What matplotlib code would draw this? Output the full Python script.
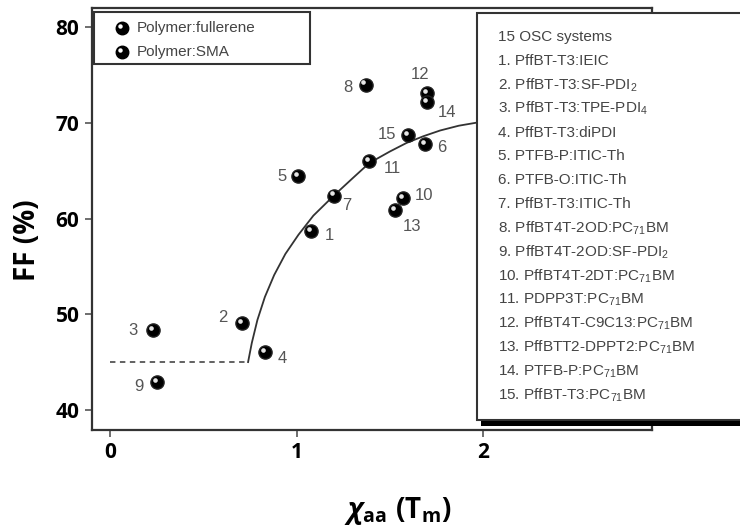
import matplotlib
matplotlib.use('Agg')
import matplotlib.pyplot as plt
from matplotlib.patches import Rectangle
from matplotlib.transforms import offset_copy

plt.rcParams['mathtext.fontset'] = 'custom'
plt.rcParams['mathtext.rm'] = 'Open Sans:bold'
plt.rcParams['mathtext.bf'] = 'Open Sans:bold'
plt.rcParams['mathtext.it'] = 'Open Sans:bold:italic'
plt.rcParams['mathtext.sf'] = 'Liberation Sans'

# 数据：15 个体系的 χaa 与 FF
ids = [1, 2, 3, 4, 5, 6, 7, 8, 9, 10, 11, 12, 13, 14, 15]
chi_aa = [1.08, 0.71, 0.23, 0.83, 1.01, 1.69, 1.20, 1.37, 0.25, 1.57, 1.39, 1.70, 1.53, 1.70, 1.60]
ff = [58.7, 49.1, 48.3, 46.0, 64.4, 67.8, 62.4, 74.0, 42.9, 62.1, 66.0, 73.1, 60.9, 72.2, 68.7]
fullerene_ids = [8, 10, 11, 12, 13, 14, 15]

# 拟合曲线
fit_x = [0.74, 0.76, 0.79, 0.83, 0.88, 0.94, 1.01, 1.09, 1.20, 1.30, 1.39, 1.50, 1.59, 1.68, 1.77, 1.87, 1.96]
fit_y = [45.0, 47.0, 49.4, 51.8, 54.1, 56.3, 58.3, 60.3, 62.4, 64.2, 65.8, 67.0, 67.9, 68.6, 69.2, 69.7, 70.0]
plateau_x = [0.0, 0.74]
plateau_y = [45.0, 45.0]

legend_labels = ['Polymer:fullerene', 'Polymer:SMA']
sub2 = r'$_{\mathsf{2}}$'
sub4 = r'$_{\mathsf{4}}$'
sub71 = r'$_{\mathsf{71}}$'
systems = [
    '15 OSC systems',
    '1. PffBT-T3:IEIC',
    '2. PffBT-T3:SF-PDI' + sub2,
    '3. PffBT-T3:TPE-PDI' + sub4,
    '4. PffBT-T3:diPDI',
    '5. PTFB-P:ITIC-Th',
    '6. PTFB-O:ITIC-Th',
    '7. PffBT-T3:ITIC-Th',
    '8. PffBT4T-2OD:PC' + sub71 + 'BM',
    '9. PffBT4T-2OD:SF-PDI' + sub2,
    '10. PffBT4T-2DT:PC' + sub71 + 'BM',
    '11. PDPP3T:PC' + sub71 + 'BM',
    '12. PffBT4T-C9C13:PC' + sub71 + 'BM',
    '13. PffBTT2-DPPT2:PC' + sub71 + 'BM',
    '14. PTFB-P:PC' + sub71 + 'BM',
    '15. PffBT-T3:PC' + sub71 + 'BM',
]

# 标签偏移（像素）
label_offsets = {1: (18, -5), 2: (-20, 5), 3: (-20, 0), 4: (17, -6), 5: (-16, 0),
                 6: (17, -4), 7: (13, -10), 8: (-18, -3), 9: (-18, -4), 10: (21, 3),
                 11: (23, -7), 12: (-7, 19), 13: (17, -17), 14: (20, -11), 15: (-21, 1)}

gray = '#444444'
txt_font = {'family': ['Liberation Sans', 'DejaVu Sans'], 'size': 11}

fig = plt.figure(figsize=(7.4, 5.27), dpi=100)
ax = fig.add_axes([92 / 740, 1 - 430 / 527, 560 / 740, 422 / 527])


def sphere(ax, xs, ys, size=9.5):
    """画带高光的小球"""
    ax.plot(xs, ys, 'o', ms=size, color='black', mec='#222222', zorder=4)
    hl = offset_copy(ax.transData, fig=fig, x=-2.2, y=2.2, units='dots')
    ax.plot(xs, ys, 'o', ms=size * 0.35, color='white', mec='none', alpha=0.9,
            transform=hl, zorder=5)


ax.plot(plateau_x, plateau_y, '--', color='#555555', lw=1.3, dashes=(3, 2.5))
ax.plot(fit_x, fit_y, '-', color='#333333', lw=1.3)

full_x = [chi_aa[i - 1] for i in fullerene_ids]
full_y = [ff[i - 1] for i in fullerene_ids]
sma_x = [chi_aa[i - 1] for i in ids if i not in fullerene_ids]
sma_y = [ff[i - 1] for i in ids if i not in fullerene_ids]
sphere(ax, full_x, full_y)
sphere(ax, sma_x, sma_y)

for i, x, y in zip(ids, chi_aa, ff):
    dx, dy = label_offsets[i]
    ax.annotate(str(i), (x, y), xytext=(dx, dy), textcoords='offset pixels',
                ha='center', va='center', color='#555555',
                family=['Liberation Sans', 'DejaVu Sans'], size=12)

ax.set_xlim(-0.097, 2.906)
ax.set_ylim(37.9, 82.0)
ax.set_xticks([0, 1, 2])
ax.set_yticks([40, 50, 60, 70, 80])
ax.tick_params(direction='out', length=5, width=1.2, color='#555555', pad=4,
               labelsize=15)
for lab in ax.get_xticklabels() + ax.get_yticklabels():
    lab.set_fontfamily('Open Sans')
    lab.set_fontweight('bold')
for s in ax.spines.values():
    s.set_color('#333333')
    s.set_linewidth(1.6)

ax.set_ylabel('FF (%)', fontsize=20, fontweight='bold', family='Open Sans')
ax.yaxis.set_label_coords(-0.09, 0.45)
ax.set_xlabel(r'$\mathit{\chi}_{\mathrm{aa}}\ \mathrm{(T_m)}$', fontsize=20)
ax.xaxis.set_label_coords(0.545, -0.155)

# 左上角图例
ax.add_patch(Rectangle((94 / 740, 1 - 64 / 527), 216 / 740, 52 / 527,
                       transform=fig.transFigure, fc='white', ec='#333333',
                       lw=1.5, zorder=6))
for k, (lab, yy) in enumerate(zip(legend_labels, [28, 52])):
    fx, fy = 122 / 740, 1 - yy / 527
    ax.plot([fx], [fy], 'o', ms=9, color='black', transform=fig.transFigure,
            zorder=7, clip_on=False)
    hl = offset_copy(fig.transFigure, fig=fig, x=-2, y=2, units='dots')
    ax.plot([fx], [fy], 'o', ms=3.2, color='white', mec='none',
            transform=hl, zorder=8, clip_on=False)
    fig.text(137 / 740, fy, lab, va='center', ha='left', color=gray,
             zorder=9, **txt_font)

# 右侧体系列表框
ax.add_patch(Rectangle((477 / 740, 1 - 420 / 527), 400 / 740, 407 / 527,
                       transform=fig.transFigure, fc='white', ec='#333333',
                       lw=1.5, zorder=6, clip_on=False))
ax.add_patch(Rectangle((481 / 740, 1 - 426 / 527), 400 / 740, 5 / 527,
                       transform=fig.transFigure, fc='black', ec='none',
                       zorder=6, clip_on=False))
for k, s in enumerate(systems):
    fig.text(498 / 740, 1 - (37 + k * 23.9) / 527, s, va='center', ha='left',
             color=gray, zorder=9, **txt_font)

fig.savefig('out.png', dpi=100)
